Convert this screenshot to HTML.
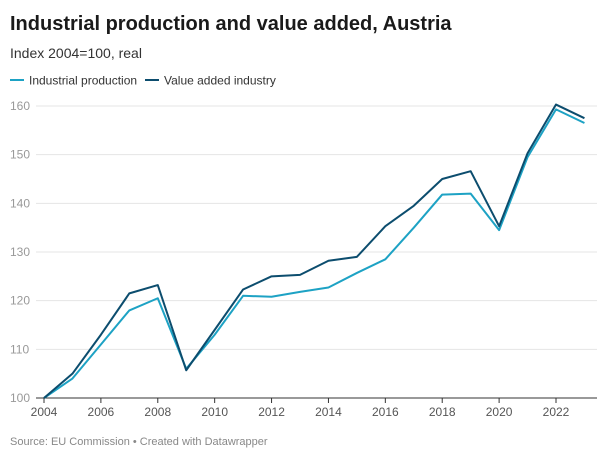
<!DOCTYPE html>
<html><head><meta charset="utf-8"><style>
body{margin:0;background:#fff;font-family:"Liberation Sans",sans-serif;}
svg{display:block}
</style></head><body>
<svg id="c" width="605" height="460">
<text x="10" y="30" font-size="20" font-weight="bold" fill="#1a1a1a">Industrial production and value added, Austria</text>
<text x="10" y="58" font-size="14" fill="#333">Index 2004=100, real</text>
<g>
<rect x="10" y="79" width="14" height="2" fill="#1da2c4"/>
<text x="29" y="84.5" font-size="12" fill="#333">Industrial production</text>
<rect x="145" y="79" width="14" height="2" fill="#0c4d6e"/>
<text x="164" y="84.5" font-size="12" fill="#333">Value added industry</text>
</g>
<g id="grid"></g><g id="lines"></g>
<text x="10" y="445" font-size="11" fill="#888">Source: EU Commission • Created with Datawrapper</text>
</svg>
<script>
const years=[2004,2005,2006,2007,2008,2009,2010,2011,2012,2013,2014,2015,2016,2017,2018,2019,2020,2021,2022,2023];
const industrialProduction=[100,104,111,118,120.5,106,113,121,120.8,121.8,122.7,125.7,128.5,135,141.8,142,134.5,149.5,159.3,156.5];
const valueAdded=[100,105,113,121.5,123.2,105.7,114,122.3,125,125.3,128.2,129,135.3,139.5,145,146.6,135.3,150.3,160.3,157.5];
const yTicks=[100,110,120,130,140,150,160];
const xTicks=[2004,2006,2008,2010,2012,2014,2016,2018,2020,2022];
const NS="http://www.w3.org/2000/svg";
const xS=v=>44+(v-2004)*(512/18);
const yS=v=>398-(v-100)*(292/60);
const grid=document.getElementById('grid'),lines=document.getElementById('lines');
yTicks.forEach(t=>{
 const l=document.createElementNS(NS,'line');
 l.setAttribute('x1',36);l.setAttribute('x2',597);l.setAttribute('y1',yS(t));l.setAttribute('y2',yS(t));
 l.setAttribute('stroke',t===100?'#333':'#e5e5e5');l.setAttribute('stroke-width',1);
 
 
 grid.appendChild(l);
 const tx=document.createElementNS(NS,'text');
 tx.setAttribute('x',10);tx.setAttribute('y',yS(t)+4);tx.setAttribute('font-size',12);tx.setAttribute('fill','#999');
 tx.textContent=t;
 
 
 grid.appendChild(tx);
});
xTicks.forEach(t=>{
 const tk=document.createElementNS(NS,'line');
 tk.setAttribute('x1',xS(t));tk.setAttribute('x2',xS(t));tk.setAttribute('y1',398);tk.setAttribute('y2',403);tk.setAttribute('stroke','#333');
 
 
 grid.appendChild(tk);
 const tx=document.createElementNS(NS,'text');
 tx.setAttribute('x',xS(t));tx.setAttribute('y',416);tx.setAttribute('font-size',12);tx.setAttribute('fill','#555');tx.setAttribute('text-anchor','middle');
 tx.textContent=t;
 
 
 grid.appendChild(tx);
});
function draw(vals,color,name){
 const p=document.createElementNS(NS,'polyline');
 p.setAttribute('points',vals.map((v,i)=>xS(years[i])+','+yS(v)).join(' '));
 p.setAttribute('fill','none');p.setAttribute('stroke',color);p.setAttribute('stroke-width',2);p.setAttribute('stroke-linejoin','round');
 
 
 lines.appendChild(p);
}
draw(industrialProduction,'#1da2c4','line-industrial-production');
draw(valueAdded,'#0c4d6e','line-value-added');
</script>
</body></html>
